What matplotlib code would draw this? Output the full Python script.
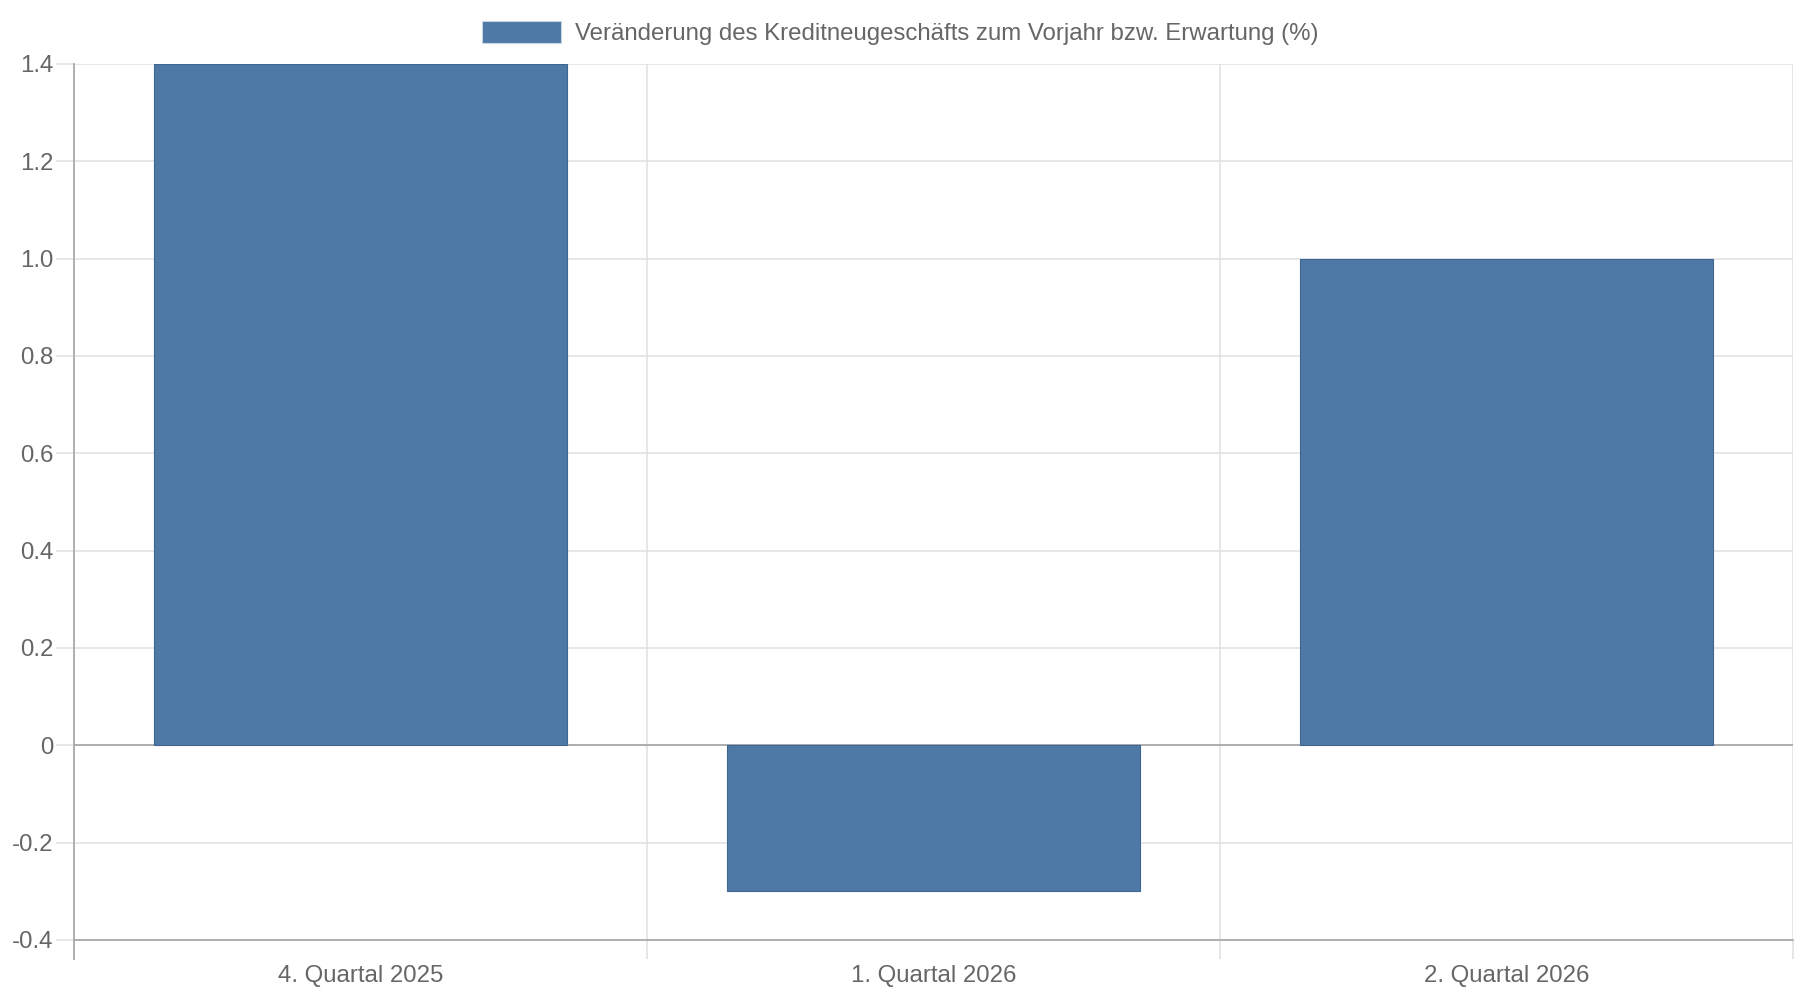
import matplotlib
matplotlib.use("Agg")
from matplotlib import pyplot as plt
from matplotlib.patches import Patch

plt.rcParams['font.family'] = ['Liberation Sans', 'DejaVu Sans']
plt.rcParams['axes.unicode_minus'] = False

categories = ['4. Quartal 2025', '1. Quartal 2026', '2. Quartal 2026']
values = [1.4, -0.3, 1.0]
series_name = 'Veränderung des Kreditneugeschäfts zum Vorjahr bzw. Erwartung (%)'
y_ticks = [-0.4, -0.2, 0, 0.2, 0.4, 0.6, 0.8, 1.0, 1.2, 1.4]
y_tick_labels = ['-0.4', '-0.2', '0', '0.2', '0.4', '0.6', '0.8', '1.0', '1.2', '1.4']

bar_color = '#4e79a7'
edge_color = '#3f6690'
text_color = '#666666'
grid_color = '#e0e0e0'
axis_color = '#aaaaaa'
fs = 17.3

fig = plt.figure(figsize=(18, 10), dpi=100)
ax = fig.add_axes([0.041, 0.060, 0.955, 0.876])

x = range(len(categories))
ax.bar(x, values, width=0.72, color=bar_color, edgecolor=edge_color,
       linewidth=0.8, zorder=3)

ax.set_xlim(-0.5, len(categories) - 0.5)
ax.set_ylim(-0.4, 1.4)

# y axis
ax.set_yticks(y_ticks)
ax.set_yticklabels(y_tick_labels)
ax.tick_params(axis='y', length=13, width=1.1, color=grid_color, pad=1.5,
               labelsize=fs, labelcolor=text_color)
ax.grid(axis='y', color=grid_color, linewidth=1.1, zorder=0)

# x axis: boundary ticks with gridlines, labels on the category centres
ax.set_xticks([i - 0.5 for i in range(len(categories) + 1)])
ax.set_xticklabels([])
ax.set_xticks(list(x), minor=True)
ax.set_xticklabels(categories, minor=True)
ax.tick_params(axis='x', which='major', length=14, width=1.1, color=grid_color)
ax.tick_params(axis='x', which='minor', length=0, pad=18,
               labelsize=fs, labelcolor=text_color)
ax.grid(axis='x', which='major', color=grid_color, linewidth=1.1, zorder=0)

ax.axhline(0, color=axis_color, linewidth=1.3, zorder=2)

for side in ['top', 'right']:
    ax.spines[side].set_visible(False)
for side in ['left', 'bottom']:
    ax.spines[side].set_color(axis_color)
    ax.spines[side].set_linewidth(1.3)
ax.spines['left'].set_bounds(-0.4, 1.4)
ax.spines['left'].set_zorder(4)

# left spine extends below the plot like the reference
ax.plot([-0.5, -0.5], [-0.4, -0.44], color=axis_color, linewidth=1.3,
        clip_on=False, zorder=4)

handle = Patch(facecolor=bar_color, edgecolor='#c8d3e0', linewidth=0.8)
fig.legend([handle], [series_name], loc='center', bbox_to_anchor=(0.5, 0.967),
           frameon=False, fontsize=fs, labelcolor=text_color,
           handlelength=3.3, handleheight=1.0, handletextpad=0.55,
           borderpad=0)

fig.savefig('out.png', dpi=100, facecolor='white')
